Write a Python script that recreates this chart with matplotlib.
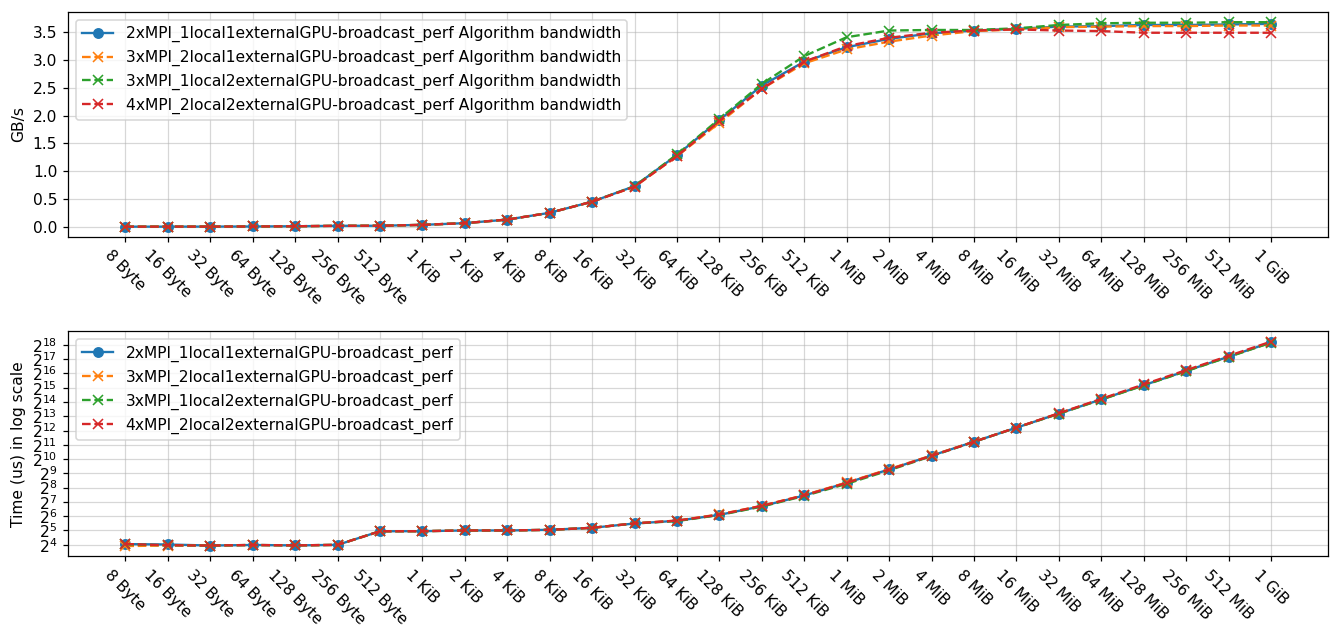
import numpy as np
import matplotlib
matplotlib.use("Agg")
import matplotlib.pyplot as plt

sizes = ["8 Byte", "16 Byte", "32 Byte", "64 Byte", "128 Byte", "256 Byte", "512 Byte",
         "1 KiB", "2 KiB", "4 KiB", "8 KiB", "16 KiB", "32 KiB", "64 KiB", "128 KiB",
         "256 KiB", "512 KiB", "1 MiB", "2 MiB", "4 MiB", "8 MiB", "16 MiB", "32 MiB",
         "64 MiB", "128 MiB", "256 MiB", "512 MiB", "1 GiB"]

names = ["2xMPI_1local1externalGPU-broadcast_perf",
         "3xMPI_2local1externalGPU-broadcast_perf",
         "3xMPI_1local2externalGPU-broadcast_perf",
         "4xMPI_2local2externalGPU-broadcast_perf"]

# algorithm bandwidth, GB/s
bw_a = [0.0005, 0.001, 0.002, 0.004, 0.008, 0.016, 0.017, 0.033, 0.064, 0.128, 0.25,
        0.45, 0.73, 1.29, 1.92, 2.54, 2.97, 3.23, 3.38, 3.48, 3.53, 3.56, 3.60, 3.61,
        3.63, 3.63, 3.64, 3.65]
bw_b = [0.0005, 0.001, 0.002, 0.004, 0.008, 0.016, 0.017, 0.033, 0.064, 0.128, 0.25,
        0.45, 0.72, 1.27, 1.87, 2.48, 2.94, 3.19, 3.33, 3.44, 3.52, 3.55, 3.59, 3.60,
        3.61, 3.61, 3.62, 3.62]
bw_c = [0.0005, 0.001, 0.002, 0.004, 0.008, 0.016, 0.017, 0.033, 0.064, 0.128, 0.25,
        0.45, 0.73, 1.30, 1.94, 2.57, 3.07, 3.41, 3.53, 3.54, 3.54, 3.57, 3.63, 3.66,
        3.67, 3.67, 3.68, 3.68]
bw_d = [0.0005, 0.001, 0.002, 0.004, 0.008, 0.016, 0.017, 0.033, 0.064, 0.128, 0.25,
        0.45, 0.72, 1.27, 1.90, 2.48, 2.97, 3.25, 3.40, 3.49, 3.53, 3.55, 3.53, 3.52,
        3.49, 3.49, 3.49, 3.49]

# time in us
t_a = [16.5, 16.2, 15.4, 15.8, 15.5, 15.9, 30.8, 30.9, 32.0, 32.0, 33.0, 36.4, 44.9,
       51.2, 68.3, 104, 175, 323, 620, 1209, 2376, 4712, 9320, 18600, 37000, 74000,
       148000, 296000]
t_b = [15.0, 15.4, 15.4, 15.8, 15.5, 15.9, 30.8, 30.9, 32.0, 32.0, 33.0, 36.4, 45.2,
       51.6, 70.0, 106, 178, 329, 630, 1220, 2383, 4726, 9350, 18640, 37200, 74400,
       148300, 296600]
t_c = [16.3, 15.6, 15.4, 15.8, 15.5, 15.9, 30.8, 30.9, 32.0, 32.0, 33.0, 36.4, 44.9,
       50.5, 67.6, 102, 171, 308, 594, 1185, 2370, 4700, 9250, 18340, 36600, 73200,
       146000, 292000]
t_d = [16.6, 15.6, 15.4, 15.8, 15.5, 15.9, 30.8, 30.9, 32.0, 32.0, 33.0, 36.4, 45.2,
       51.6, 69.0, 106, 176, 323, 617, 1202, 2376, 4726, 9500, 19070, 38460, 76900,
       153800, 307700]

colors = ["#1f77b4", "#ff7f0e", "#2ca02c", "#d62728"]
styles = [("-", "o"), ("--", "x"), ("--", "x"), ("--", "x")]

dpi = 112
fig, (ax1, ax2) = plt.subplots(2, 1, figsize=(1335 / dpi, 630 / dpi), dpi=dpi)
fig.subplots_adjust(left=0.051, right=0.995, top=0.981, bottom=0.117, hspace=0.42)

x = np.arange(len(sizes))
for bw, name, c, (ls, mk) in zip([bw_a, bw_b, bw_c, bw_d], names, colors, styles):
    ax1.plot(x, bw, linestyle=ls, marker=mk, color=c, label=name + " Algorithm bandwidth")
for t, name, c, (ls, mk) in zip([t_a, t_b, t_c, t_d], names, colors, styles):
    ax2.plot(x, t, linestyle=ls, marker=mk, color=c, label=name)

ax1.set_ylabel("GB/s")
ax1.set_yticks(np.arange(0, 3.51, 0.5))
ax2.set_ylabel("Time (us) in log scale")
ax2.set_yscale("log", base=2)
ax2.set_yticks([2 ** i for i in range(4, 19)])
ax2.minorticks_off()

for ax in (ax1, ax2):
    ax.set_xticks(x)
    ax.set_xticklabels(sizes, rotation=-45)
    ax.grid(True, alpha=0.5)
    ax.legend(loc="upper left")

plt.savefig("out.png", dpi=dpi)
